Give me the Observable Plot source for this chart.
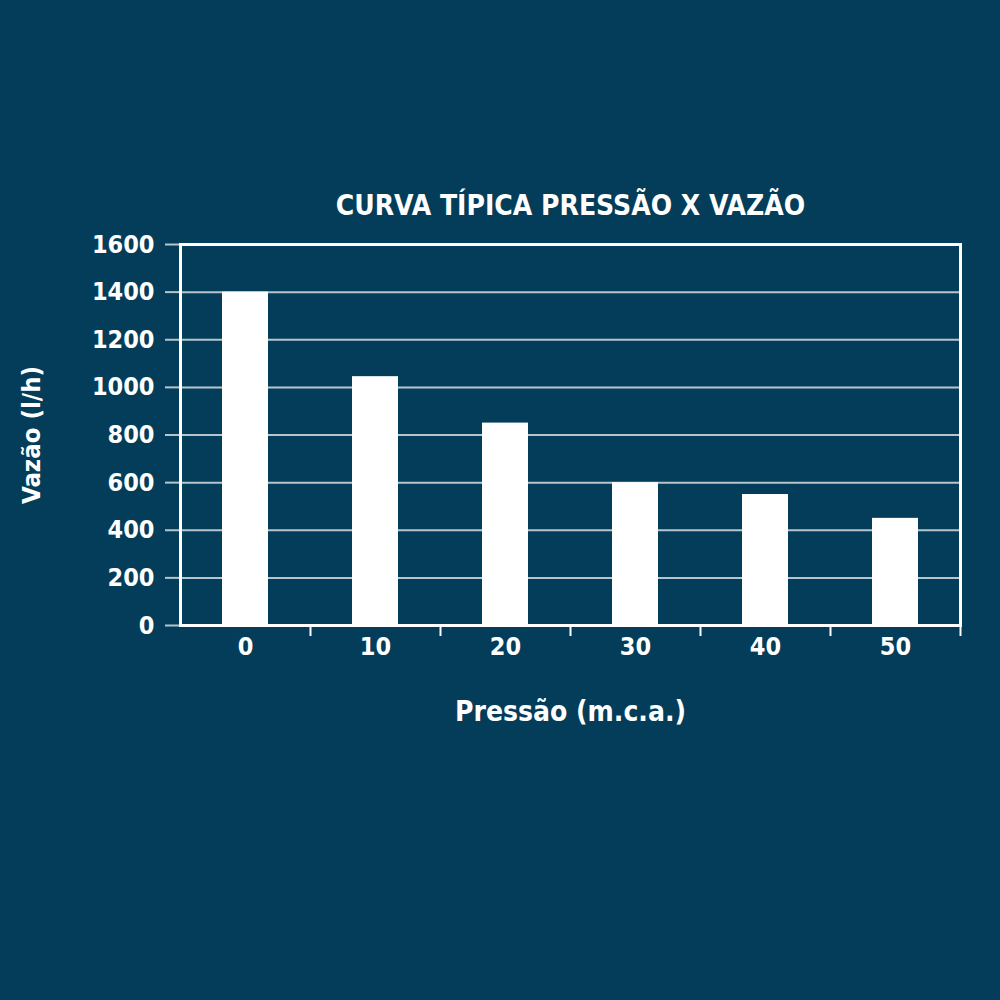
<!DOCTYPE html>
<html>
<head>
<meta charset="utf-8">
<script src="https://cdn.jsdelivr.net/npm/d3@7"></script>
<script src="https://cdn.jsdelivr.net/npm/@observablehq/plot@0.6"></script>
<style>
  html, body { margin: 0; padding: 0; background: #033d59; }
  #chart { width: 1000px; height: 1000px; }
</style>
</head>
<body>
<div id="chart"></div>
<script>
const pressures = [0, 10, 20, 30, 40, 50];
const flows = [1400, 1045, 850, 600, 550, 450];
const yTicks = [0, 200, 400, 600, 800, 1000, 1200, 1400, 1600];
const title = "CURVA TÍPICA PRESSÃO X VAZÃO";
const xLabel = "Pressão (m.c.a.)";
const yLabel = "Vazão (l/h)";

const data = pressures.map((p, i) => ({p, v: flows[i]}));
const font = "'Liberation Sans Narrow', 'DejaVu Sans Condensed', 'Liberation Sans', sans-serif";

const chart = Plot.plot({
  width: 1000,
  height: 1000,
  marginLeft: 180,
  marginRight: 40,
  marginTop: 244,
  marginBottom: 375,
  style: {background: "#033d59", color: "white", fontFamily: font, fontWeight: "bold", fontSize: "25px"},
  x: {type: "band", domain: pressures, paddingInner: 0.646, paddingOuter: 0.323},
  y: {domain: [0, 1600]},
  marks: [
    Plot.ruleY(yTicks.filter(d => d > 0 && d < 1600), {y: d => d, stroke: "#b9c5cd", strokeWidth: 2}),
    Plot.axisY({ticks: yTicks, tickSize: 15, tickPadding: 11, stroke: "#b9c5cd", strokeWidth: 2, label: null, fill: "white", fontSize: 25, fontWeight: "bold", tickFormat: d => String(d)}),
    Plot.barY(data, {x: "p", y: "v", fill: "white"}),
    Plot.ruleX(pressures, {x: d => d, dx: 65, y1: 0, y2: 0, insetBottom: -11, stroke: "white", strokeWidth: 2}),
    Plot.axisX({tickSize: 0, tickPadding: 12, label: null, fill: "white", fontSize: 25, fontWeight: "bold"}),
    Plot.frame({stroke: "white", strokeWidth: 3}),
    Plot.text([title], {frameAnchor: "top", lineAnchor: "middle", dy: -38, fill: "white", fontSize: 28, fontWeight: "bold"}),
    Plot.text([xLabel], {frameAnchor: "bottom", lineAnchor: "middle", dy: 87, fill: "white", fontSize: 28, fontWeight: "bold"}),
    Plot.text([yLabel], {frameAnchor: "left", textAnchor: "middle", lineAnchor: "middle", dx: -149, rotate: -90, fill: "white", fontSize: 25.5, fontWeight: "bold"})
  ]
});
document.getElementById("chart").appendChild(chart);
</script>
</body>
</html>
